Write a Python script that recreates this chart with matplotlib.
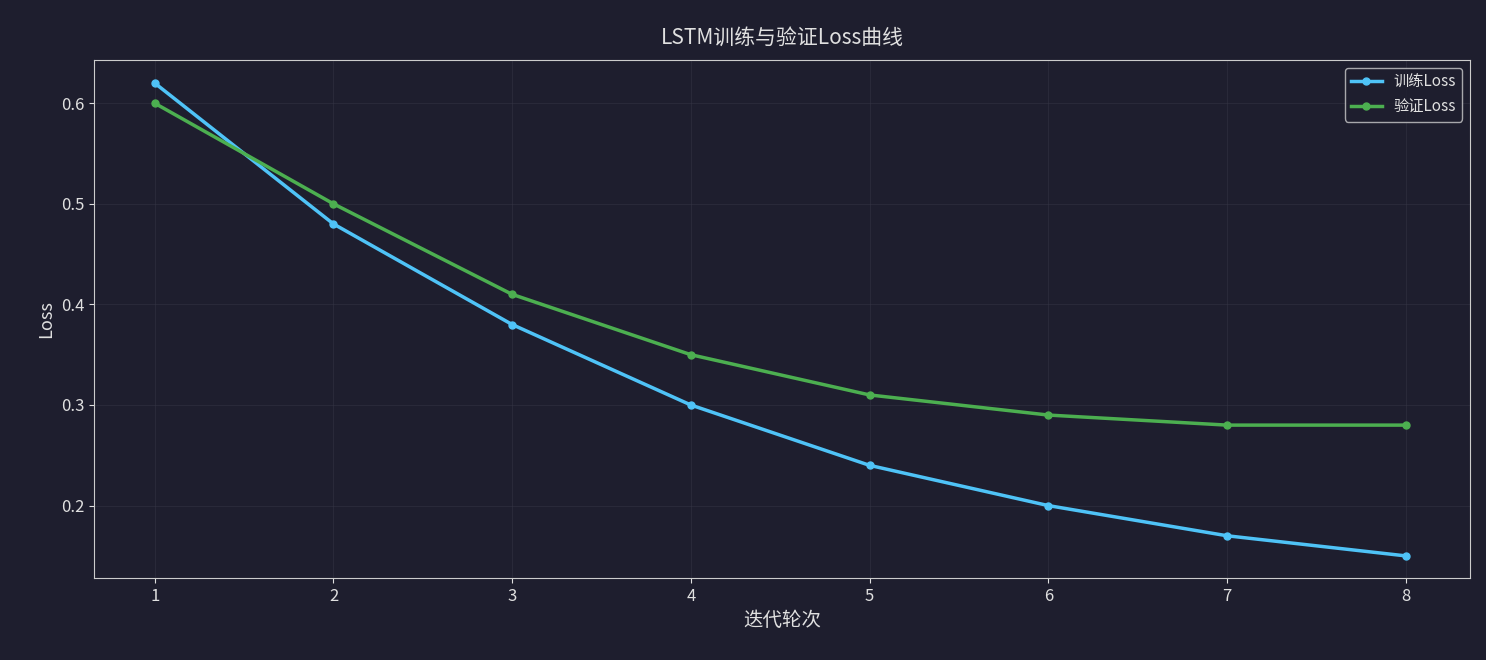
import matplotlib.pyplot as plt

plt.rcParams['font.family'] = ['Noto Sans CJK SC', 'DejaVu Sans']
plt.rcParams['axes.unicode_minus'] = False

epochs = [1, 2, 3, 4, 5, 6, 7, 8]
train_loss = [0.62, 0.48, 0.38, 0.30, 0.24, 0.20, 0.17, 0.15]
val_loss = [0.60, 0.50, 0.41, 0.35, 0.31, 0.29, 0.28, 0.28]

bg = '#1e1e2e'
fg = '#e0e0e0'

fig = plt.figure(figsize=(14.86, 6.6), dpi=100, facecolor=bg)
ax = fig.add_axes([94/1486, 1 - 578/660, (1470-94)/1486, (578-60)/660])
ax.set_facecolor(bg)

ax.plot(epochs, train_loss, color='#4fc3f7', lw=2.5, marker='o', ms=5, label='训练Loss')
ax.plot(epochs, val_loss, color='#4caf50', lw=2.5, marker='o', ms=5, label='验证Loss')

ax.set_title('LSTM训练与验证Loss曲线', color=fg, fontsize=15, pad=12)
ax.set_xlabel('迭代轮次', color=fg, fontsize=14)
ax.set_ylabel('Loss', color=fg, fontsize=13)
ax.set_xticks(epochs)
ax.set_yticks([0.2, 0.3, 0.4, 0.5, 0.6])
ax.set_xlim(0.66, 8.36)
ax.set_ylim(0.128, 0.643)
ax.tick_params(colors=fg, labelsize=12)
for s in ax.spines.values():
    s.set_color('#cccccc')
ax.grid(True, color='#3a3a4a', lw=0.8, alpha=0.4)

leg = ax.legend(loc='upper right', fontsize=11, facecolor=bg, edgecolor='#cccccc', labelcolor=fg)

fig.savefig('out.png', dpi=100, facecolor=bg)
